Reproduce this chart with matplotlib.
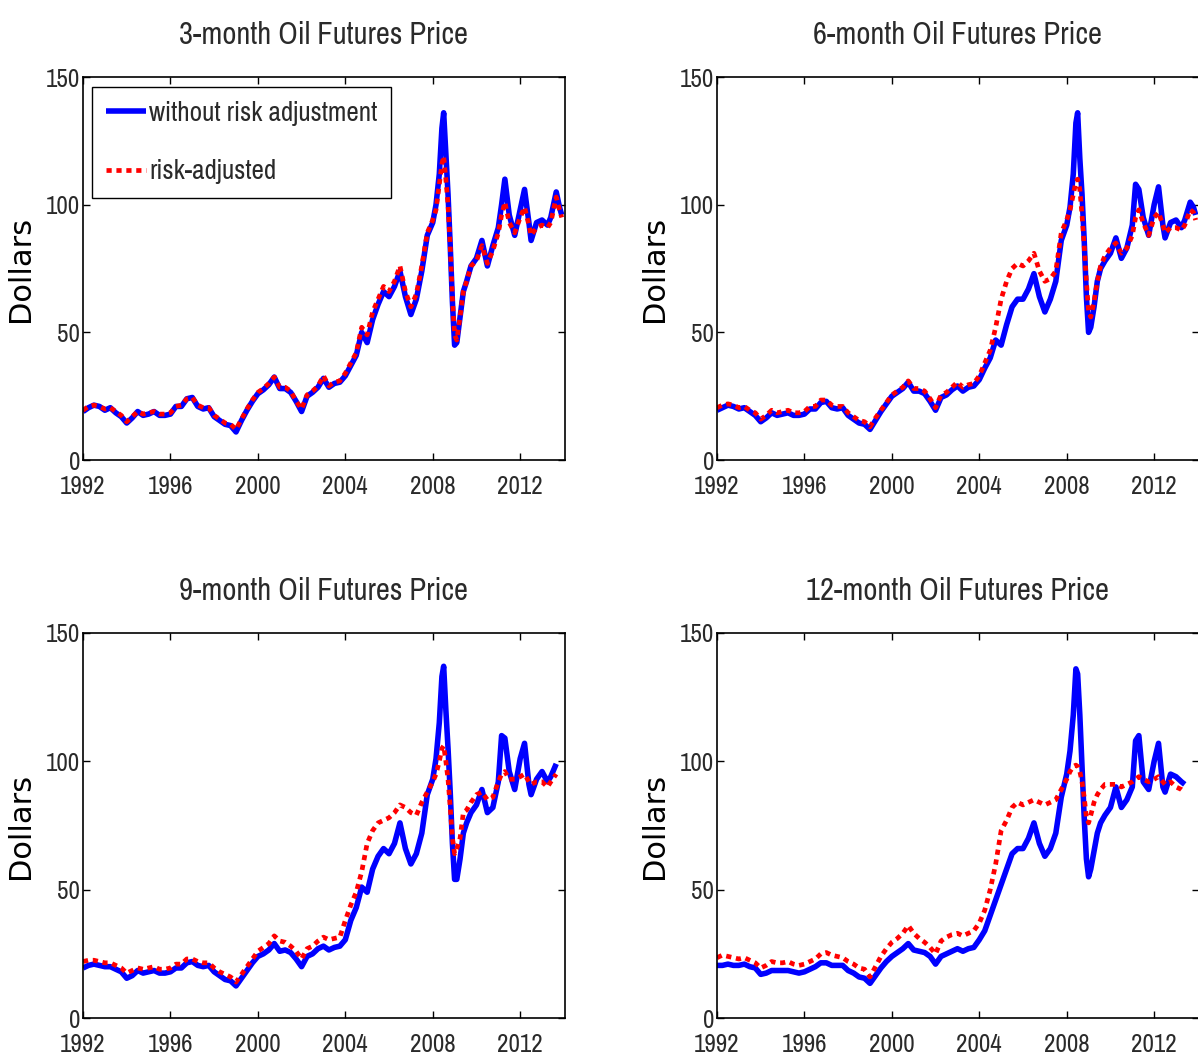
import numpy as np
import matplotlib
matplotlib.use('Agg')
import matplotlib.pyplot as plt

# narrow face for the matlab look, fall back to dejavu
narrow = ['Archivo Narrow', 'DejaVu Sans']
plt.rcParams['font.family'] = narrow

# TIME GRID (decimal years) - quarterly, denser around the 2008 spike
t_early = [1992.0, 1992.25, 1992.5, 1992.75, 1993.0, 1993.25, 1993.5, 1993.75,
           1994.0, 1994.25, 1994.5, 1994.75, 1995.0, 1995.25, 1995.5, 1995.75,
           1996.0, 1996.25, 1996.5, 1996.75, 1997.0, 1997.25, 1997.5, 1997.75,
           1998.0, 1998.25, 1998.5, 1998.75, 1999.0, 1999.25, 1999.5, 1999.75,
           2000.0, 2000.25, 2000.5, 2000.75, 2001.0, 2001.25, 2001.5, 2001.75,
           2002.0, 2002.25, 2002.5, 2002.75, 2003.0, 2003.25, 2003.5, 2003.75,
           2004.0, 2004.25, 2004.5, 2004.75, 2005.0, 2005.25, 2005.5, 2005.75,
           2006.0, 2006.25, 2006.5, 2006.75, 2007.0, 2007.25, 2007.5, 2007.75]
t_mid = [2008.0, 2008.15, 2008.3, 2008.42, 2008.5, 2008.6, 2008.7, 2008.8,
         2008.9, 2009.0, 2009.1, 2009.25, 2009.4, 2009.55, 2009.75]
t_late = [2010.0, 2010.25, 2010.5, 2010.75, 2011.0, 2011.15, 2011.3, 2011.5,
          2011.75, 2012.0, 2012.2, 2012.4, 2012.5, 2012.75, 2013.0, 2013.25,
          2013.4, 2013.65, 2013.8, 2013.9]
t_all = t_early + t_mid + t_late

# 3-MONTH
m3_raw = [19, 20.5, 21.5, 21, 19.5, 20.5, 18.5, 17,
          14.5, 16.5, 19, 17.5, 18, 19, 17.5, 17.5,
          18, 21, 21, 24, 24.5, 21, 20, 20.5,
          17, 15.5, 14, 13.5, 11, 15.5, 19.5, 23,
          26, 27.5, 29.5, 32.5, 28, 28, 26.5, 23,
          19, 25, 26.5, 28.5, 32, 28.5, 30, 30.5,
          33, 37, 41, 50, 46, 55, 61, 66,
          64, 68, 74, 64, 57, 63, 74, 88,
          93, 100, 112, 130, 136, 120, 104, 84, 62, 45, 46, 56, 66, 70, 76,
          79, 86, 76, 84, 91, 100, 110, 96, 88, 98, 106, 93, 86, 93, 94, 92,
          95, 105, 99, 96]
m3_adj = [19.5, 21, 21.5, 21, 20, 20.5, 19, 17.5,
          15, 17, 19, 18, 18.5, 19, 18, 18,
          18.5, 21, 21.5, 24, 24.5, 21.5, 20.5, 20.5,
          17.5, 16, 14.5, 14, 12, 16, 20, 23.5,
          26.5, 28, 30, 32.5, 28.5, 28.5, 27, 23,
          20, 25.5, 27, 29, 33, 29, 30.5, 31,
          34, 38, 42, 52, 49, 58, 63, 68,
          66, 70, 76, 66, 60, 65, 76, 89,
          94, 98, 108, 116, 119, 110, 100, 84, 63, 49, 47, 56, 66, 70, 76,
          78, 84, 77, 82, 89, 96, 101, 93, 89, 95, 99, 92, 88, 91, 92, 91,
          93, 103, 98, 95]

# 6-MONTH
m6_raw = [19.5, 20.5, 21.5, 21, 20, 20.5, 19, 17.5,
          15, 16.5, 18.5, 17.5, 18, 18.5, 17.5, 17.5,
          18, 20, 20, 22.5, 23, 20.5, 20, 20.5,
          17.5, 16, 14.5, 14, 12, 15.5, 19, 22,
          25, 26.5, 28, 30.5, 27, 27, 26, 23,
          19.5, 24.5, 25.5, 27.5, 29, 27, 28.5, 29,
          31.5, 36, 40, 47, 45, 53, 60, 63,
          63, 67, 73, 64, 58, 63, 70, 86,
          92, 99, 112, 132, 136, 118, 104, 86, 64, 50, 52, 60, 70, 75, 78,
          81, 87, 79, 83, 92, 108, 106, 95, 88, 100, 107, 92, 87, 93, 94, 91,
          94, 101, 99, 96]
m6_adj = [20.5, 21.5, 22, 21.5, 20.5, 21, 19.5, 18.5,
          16, 17.5, 19.5, 18.5, 19, 19.5, 18.5, 18.5,
          19, 21, 21, 23.5, 23.5, 21.5, 21, 21,
          18.5, 17, 15.5, 15, 13, 16.5, 19.5, 22.5,
          25.5, 27, 28.5, 31, 28, 28, 27, 24,
          20.5, 25.5, 26.5, 28.5, 30.5, 28.5, 29.5, 30,
          33, 38, 43, 52, 63, 70, 75, 77,
          76, 78, 81, 74, 70, 71, 74, 89,
          94, 98, 104, 109, 110, 106, 96, 84, 70, 58, 56, 62, 70, 76, 80,
          83, 85, 81, 83, 88, 95, 98, 93, 88, 95, 97, 92, 89, 91, 91, 90,
          92, 98, 97, 94]

# 9-MONTH (ends mid 2013)
m9_raw = [19.5, 20.5, 21, 20.5, 20, 20, 19, 18,
          15.5, 16.5, 18.5, 17.5, 18, 18.5, 17.5, 17.5,
          18, 19.5, 19.5, 21.5, 22, 20.5, 20, 20.5,
          18, 16.5, 15, 14.5, 12.5, 15.5, 18.5, 21.5,
          24, 25, 26.5, 29, 26, 26.5, 25.5, 23,
          20, 24, 25, 27, 28, 26.5, 27.5, 28,
          30.5, 38, 43, 51, 49, 58, 63, 66,
          64, 68, 76, 66, 60, 64, 72, 87,
          93, 101, 115, 133, 137, 120, 105, 88, 68, 54, 54, 62, 72, 76, 80,
          83, 89, 80, 82, 92, 110, 109, 96, 89, 101, 107, 91, 87, 93, 96, 92,
          94, 99]
m9_adj = [22, 22.5, 22.5, 22, 21.5, 21.5, 20.5, 19.5,
          17.5, 18.5, 19.5, 19, 19.5, 20, 19, 19,
          19.5, 21, 21, 23, 23, 22, 21.5, 21.5,
          19.5, 18, 17, 16, 14, 17, 20, 23,
          26, 27.5, 29, 32, 30, 29.5, 28, 26,
          23, 27, 28, 30, 31.5, 30.5, 31, 31.5,
          38, 44, 49, 57, 68, 73, 76, 77,
          78, 80, 83, 82, 80, 79, 84, 88,
          92, 95, 100, 105, 106, 100, 93, 82, 70, 64, 66, 70, 80, 81, 84,
          87, 88, 85, 86, 92, 95, 96, 93, 93, 94, 95, 92, 91, 92, 92, 90,
          92, 95]

# 12-MONTH (ends spring 2013)
m12_raw = [20.5, 20.5, 21, 20.5, 20.5, 21, 20, 19.5,
           17, 17.5, 18.5, 18.5, 18.5, 18.5, 18, 17.5,
           18, 19, 20, 21.5, 21.5, 20.5, 20.5, 20.5,
           18.5, 17.5, 16, 15.5, 13.5, 16.5, 19.5, 22,
           24, 25.5, 27, 29, 26.5, 26, 25.5, 24,
           21, 24, 25, 26, 27, 26, 27, 27.5,
           30.5, 34, 40, 46, 52, 58, 64, 66,
           66, 70, 76, 68, 63, 66, 72, 86,
           95, 104, 118, 136, 134, 118, 98, 78, 62, 55, 58, 65, 72, 76, 79,
           82, 90, 82, 85, 90, 108, 110, 92, 89, 100, 107, 90, 88, 95, 94, 92,
           91]
m12_adj = [23.5, 24.5, 24, 23.5, 23, 23.5, 22.5, 21.5,
           19.5, 20.5, 22, 21.5, 21.5, 22, 21, 20.5,
           21, 22, 23, 25, 25.5, 24.5, 24, 23.5,
           22, 21, 19.5, 19, 16, 20, 24, 27,
           29.5, 31, 33, 36, 33, 31, 29.5, 27.5,
           25, 30, 31.5, 32.5, 33, 32, 33, 34,
           37, 42, 50, 60, 73, 77, 82, 84,
           83, 84, 85, 84, 83, 84, 85, 89,
           93, 96, 98, 98.5, 98, 96, 92, 86, 78, 76, 79, 84, 87, 89, 91,
           91, 91, 90, 91, 92, 93, 94, 93, 92, 93, 94, 92, 91, 92, 90, 89,
           88]

titles = ['3-month Oil Futures Price', '6-month Oil Futures Price',
          '9-month Oil Futures Price', '12-month Oil Futures Price']
panels = [(m3_raw, m3_adj), (m6_raw, m6_adj), (m9_raw, m9_adj), (m12_raw, m12_adj)]

xticks = [1992, 1996, 2000, 2004, 2008, 2012]
yticks = [0, 50, 100, 150]

# axes boxes in figure fractions [left, bottom, width, height]
boxes = [[0.0693, 0.5664, 0.4023, 0.361],
         [0.5985, 0.5664, 0.4023, 0.361],
         [0.0693, 0.0405, 0.4023, 0.363],
         [0.5985, 0.0405, 0.4023, 0.363]]

txt_col = '#2a2a2a'

fig = plt.figure(figsize=(11.98, 10.61), dpi=100)

for i, (raw, adj) in enumerate(panels):
    ax = fig.add_axes(boxes[i])
    tt = np.array(t_all[:len(raw)])
    ax.plot(tt, raw, color='blue', lw=4.0, solid_capstyle='butt',
            label='without risk adjustment')
    ax.plot(tt, adj, color='red', lw=3.4, linestyle=(0, (1.1, 1.0)),
            dash_capstyle='butt', label='risk-adjusted')

    ax.set_xlim(1992, 2014.05)
    ax.set_ylim(0, 150)
    ax.set_xticks(xticks)
    ax.set_yticks(yticks)
    ax.tick_params(direction='in', top=True, right=True, length=5, width=1,
                   labelsize=18, labelcolor=txt_col, color='black')
    ax.tick_params(axis='x', pad=11)
    ax.tick_params(axis='y', pad=2)
    for sp in ax.spines.values():
        sp.set_linewidth(1.2)

    ax.set_title(titles[i], fontsize=22, color=txt_col, pad=24)
    ax.set_ylabel('Dollars', fontsize=22, family='DejaVu Sans', color='black')
    ax.yaxis.set_label_coords(-0.1, 0.5)

    if i == 0:
        leg = ax.legend(loc='upper left', bbox_to_anchor=(0.0187, 0.974),
                        borderaxespad=0, fontsize=19.5, handlelength=1.5,
                        handletextpad=0.1, labelspacing=1.25, borderpad=0.5,
                        fancybox=False, framealpha=1, edgecolor='black')
        leg.get_frame().set_linewidth(1.0)
        for txt in leg.get_texts():
            txt.set_color(txt_col)

fig.savefig('out.png', dpi=100)
